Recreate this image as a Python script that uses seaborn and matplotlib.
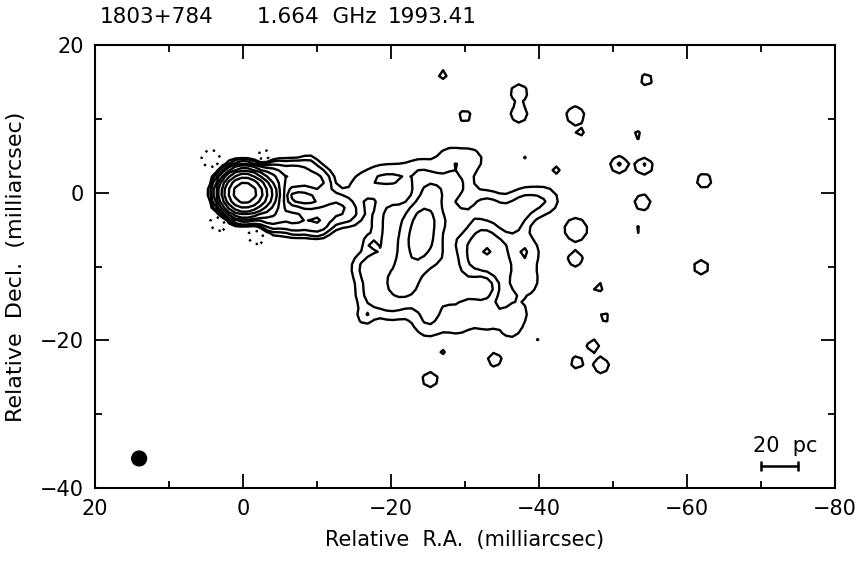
import numpy as np
import matplotlib
matplotlib.use("Agg")
import matplotlib.pyplot as plt
import seaborn as sns
from matplotlib.patches import Ellipse

title_source = "1803+784"
title_freq = "1.664  GHz"
title_epoch = "1993.41"

x_ticks = [20, 0, -20, -40, -60, -80]
y_ticks = [-40, -20, 0, 20]

# contour levels, in units of the lowest contour
contour_levels = [-1, 1, 2, 4, 8, 16, 32, 64, 128, 256, 512]

# core components: x (mas), y (mas), amplitude, sigma (mas)
core_x = [0.0, -1.2, -2.6]
core_y = [0.0, 0.0, -0.3]
core_amp = [800.0, 200.0, 70.0]
core_sig = [1.25, 1.2, 1.3]

# limb-brightened inner jet
jet_x = [-4.0, -7.0, -10.0, -4.0, -7.0, -10.0, -12.5, -14.5, -9.0]
jet_y = [2.2, 2.3, 1.5, -3.0, -3.5, -3.8, -2.0, -2.8, 4.0]
jet_amp = [10.0, 7.0, 5.0, 12.0, 9.0, 8.0, 4.0, 1.8, 1.6]
jet_sig = [1.2, 1.2, 1.3, 1.2, 1.2, 1.2, 1.4, 1.3, 0.8]

lobe_x = [-25.5, -24.5, -24.0, -23.0, -22.0,
          -20.0, -19.0, -20.0, -27.0, -29.0, -25.0, -32.5, -29.0, -33.0,
          -36.0, -38.0, -41.0, -45.0, -38.0, -38.0, -37.0, -36.2, -33.0,
          -29.0, -25.0, -16.5, -17.0, -18.5, -16.0, -21.0, -24.0, -28.0,
          -31.0, -29.0, -20.0, -33.0]
lobe_y = [0.0, -3.5, -6.5, -9.5, -12.5,
          -6.0, -11.0, -15.0, -9.0, -13.0, -15.0, -12.8, -4.0, -2.0,
          -4.0, -1.5, -1.0, -5.0, -8.0, -12.0, -16.5, -18.6, -17.0,
          -17.5, -18.0, -10.0, -14.0, 2.0, 1.0, 2.0, 3.0, 4.5,
          4.5, 1.0, -2.5, -8.0]
lobe_amp = [4.5, 9.0, 9.0, 5.0, 4.0,
            2.0, 2.5, 2.0, 3.0, 2.5, 2.0, 3.0, 2.5, 2.5,
            2.5, 2.2, 1.6, 2.0, 2.0, 1.8, 1.5, 1.3, 1.6,
            1.6, 1.4, 1.5, 1.5, 1.5, 1.4, 1.5, 1.5, 1.6,
            1.5, 2.0, 1.8, 1.0]
lobe_sig = [1.5, 1.6, 1.6, 1.6, 1.5,
            2.0, 2.0, 1.8, 2.0, 1.8, 1.8, 1.3, 1.8, 1.6,
            1.6, 1.6, 1.5, 1.3, 1.6, 1.6, 1.4, 1.0, 1.5,
            1.5, 1.5, 1.5, 1.5, 1.5, 1.4, 1.5, 1.5, 1.5,
            1.3, 1.6, 1.6, 1.2]

noise_x = [-27.0, -30.0, -37.3, -37.3, -44.9, -45.5, -54.5, -53.2, -50.8, -54.2,
           -54.0, -53.2, -62.3, -61.9, -44.9, -48.0, -48.8, -47.3, -45.1, -48.4,
           -34.0, -25.3, -23.1, -26.9, -40.0, -16.5, -17.2, -38.1, -41.9, -42.3,
           -35.2, -42.2]
noise_y = [16.0, 10.4, 13.6, 10.6, 10.5, 8.1, 15.3, 7.8, 3.8, 3.6,
           -1.3, -5.0, 1.6, -10.1, -9.0, -12.8, -16.9, -20.7, -23.0, -23.4,
           -22.6, -25.3, -21.8, -21.6, -19.9, -16.8, -6.8, 4.9, 5.5, 3.1,
           16.1, 16.1]
noise_amp = [1.5, 1.6, 1.8, 1.8, 2.0, 1.4, 1.6, 1.4, 2.2, 2.2,
             2.0, 1.4, 1.8, 1.8, 1.8, 1.5, 1.5, 1.7, 1.7, 1.9,
             1.8, 1.9, 1.15, 1.3, 1.15, 1.6, 1.4, 1.15, 1.3, 1.5,
             1.1, 1.1]
noise_sig = [0.7, 0.8, 1.0, 1.0, 1.0, 0.6, 0.8, 0.7, 0.9, 0.9,
             0.9, 0.6, 0.9, 0.9, 0.9, 0.7, 0.7, 0.8, 0.8, 0.9,
             0.85, 0.9, 0.5, 0.5, 0.5, 0.8, 0.6, 0.5, 0.5, 0.6,
             0.4, 0.4]

# negative sidelobes around the core (dotted)
neg_x = [4.3, -2.9, 3.2, -1.9]
neg_y = [4.6, 4.6, -4.0, -5.8]
neg_amp = [-2.5, -2.5, -2.5, -2.5]
neg_sig = [0.9, 0.9, 0.9, 0.9]

beam_x = [14.0]
beam_y = [-36.0]
beam_diam = [2.0]

scalebar_x = [-70.0, -75.0]
scalebar_y = [-37.0, -37.0]
scalebar_label = "20  pc"

# ---------------- build brightness map from components ----------------
comp_x = np.array(core_x + jet_x + lobe_x + noise_x + neg_x)
comp_y = np.array(core_y + jet_y + lobe_y + noise_y + neg_y)
comp_a = np.array(core_amp + jet_amp + lobe_amp + noise_amp + neg_amp)
comp_s = np.array(core_sig + jet_sig + lobe_sig + noise_sig + neg_sig)

gx = np.arange(-84.0, 24.0, 0.85)
gy = np.arange(-42.0, 22.0, 0.85)
GX, GY = np.meshgrid(gx, gy)
Z = np.zeros_like(GX)
for cx, cy, ca, cs in zip(comp_x, comp_y, comp_a, comp_s):
    Z += ca * np.exp(-((GX - cx) ** 2 + (GY - cy) ** 2) / (2 * cs ** 2))

# ---------------- plot ----------------
sns.set_theme(style="ticks")
plt.rcParams["font.family"] = ["DejaVu Sans"]
plt.rcParams["axes.unicode_minus"] = True
plt.rcParams["text.color"] = "black"
plt.rcParams["axes.labelcolor"] = "black"

fig = plt.figure(figsize=(8.61, 5.63), dpi=100)
ax = fig.add_axes([0.110, 0.1332, 0.860, 0.7868])

styles = [(0, (1, 2.5)) if lv < 0 else "solid" for lv in contour_levels]
ax.contour(GX, GY, Z, levels=contour_levels, colors="black",
           linewidths=1.7, linestyles=styles)

for bx, by, bd in zip(beam_x, beam_y, beam_diam):
    ax.add_patch(Ellipse((bx, by), bd, bd, color="black"))

ax.plot(scalebar_x, scalebar_y, color="black", lw=1.8, marker="|",
        markersize=7, markeredgewidth=1.8)
ax.text(np.mean(scalebar_x) - 0.8, scalebar_y[0] + 1.3, scalebar_label,
        ha="center", va="bottom", fontsize=15, color="black")

ax.set_xlim(20, -80)
ax.set_ylim(-40, 20)
ax.set_xticks(x_ticks)
ax.set_yticks(y_ticks)
ax.set_xticks(np.arange(-70, 20, 20), minor=True)
ax.set_yticks(np.arange(-30, 20, 20), minor=True)
ax.tick_params(which="both", direction="in", top=True, right=True,
               labelsize=15, width=1.3, colors="black")
ax.tick_params(which="major", length=10, pad=8)
ax.tick_params(which="minor", length=5)
for sp in ax.spines.values():
    sp.set_linewidth(1.5)
    sp.set_color("black")

ax.set_xlabel("Relative  R.A.  (milliarcsec)", fontsize=15, labelpad=8,
              color="black")
ax.set_ylabel("Relative  Decl.  (milliarcsec)", fontsize=16, labelpad=10,
              color="black")

ax.text(0.007, 1.063, title_source, transform=ax.transAxes, fontsize=15.5,
        ha="left", va="center", color="black")
ax.text(0.219, 1.063, title_freq, transform=ax.transAxes, fontsize=15.5,
        ha="left", va="center", color="black")
ax.text(0.396, 1.063, title_epoch, transform=ax.transAxes, fontsize=15.5,
        ha="left", va="center", color="black")

fig.savefig("out.png", dpi=100)
